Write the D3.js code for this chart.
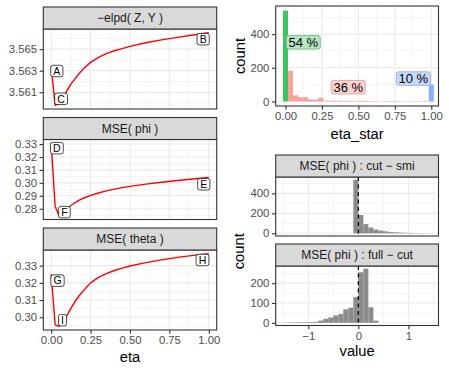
<!DOCTYPE html>
<html><head><meta charset="utf-8">
<script src="https://cdn.jsdelivr.net/npm/d3@7"></script>
<style>
body{margin:0;background:#fff}
svg{display:block}
text{font-family:"Liberation Sans",Arial,Helvetica,sans-serif}
</style>
</head><body>
<svg id="c" width="449" height="373"></svg>
<script>
// ---------------- DATA ----------------
const etaGrid   = [0,0.025,0.05,0.075,0.1,0.125,0.15,0.175,0.2,0.25,0.3,0.35,0.4,0.45,0.5,0.6,0.7,0.8,0.9,1.0];
const elpdNeg   = [3.56343,3.55978,3.55995,3.56050,3.56115,3.56175,3.56222,3.56269,3.56310,3.56377,3.56424,3.56458,3.56485,3.56505,3.56525,3.56559,3.56586,3.56609,3.56631,3.56653];
const msePhi    = [0.3307,0.2820,0.2745,0.2772,0.2800,0.2825,0.2846,0.2864,0.2879,0.2903,0.2922,0.2938,0.2952,0.2963,0.2973,0.2990,0.3005,0.3018,0.3030,0.3041];
const mseTheta  = [0.3250,0.2956,0.2947,0.2968,0.3010,0.3052,0.3090,0.3122,0.3150,0.3200,0.3232,0.3254,0.3272,0.3286,0.3298,0.3318,0.3334,0.3348,0.3360,0.3370];

const leftStrips = ["\u2212elpd( Z, Y )","MSE( phi )","MSE( theta )"];
const leftYTicks = [[3.561,3.563,3.565],[0.28,0.29,0.30,0.31,0.32,0.33],[0.30,0.31,0.32,0.33]];
const etaTicks   = [0,0.25,0.5,0.75,1];

const letters1 = ["A","B","C"], letEta1 = [0.036,0.964,0.063], letVal1 = [3.56297,3.56592,3.56039];
const letters2 = ["D","E","F"], letEta2 = [0.036,0.968,0.084], letVal2 = [0.3268,0.2989,0.2774];
const letters3 = ["G","H","I"], letEta3 = [0.040,0.960,0.072], letVal3 = [0.3213,0.3333,0.2983];

// eta_star histogram (30 bins, centres k/29)
const etaStarGroups = ["eta = 0","0 < eta < 1","eta = 1"];
const countEta0   = [540,0,0,0,0,0,0,0,0,0,0,0,0,0,0,0,0,0,0,0,0,0,0,0,0,0,0,0,0,0];
const countEtaMid = [0,182,36,25,25,12,10,22,5,4,5,4,3,4,3,4,3,3,2,1,2,1,2,1,0,1,1,1,2,0];
const countEta1   = [0,0,0,0,0,0,0,0,0,0,0,0,0,0,0,0,0,0,0,0,0,0,0,0,0,0,0,0,0,100];
const pctLabels = ["54 %","36 %","10 %"], pctEta = [0.122,0.431,0.877], pctCount = [351,85,136];
const etaStarTicks = [0,0.25,0.5,0.75,1];

// value histograms (bin left edges -1.5 .. 1.4, width 0.1)
const diffStrips = ["MSE( phi ) : cut \u2212 smi","MSE( phi ) : full \u2212 cut"];
const countCutSmi  = [0,0,0,0,0,0,0,0,0,0,0,0,0,0,537,183,92,58,38,28,20,12,10,7,5,4,3,2,1,1];
const countFullCut = [1,2,2,3,3,4,5,11,20,27,37,44,68,76,130,255,273,78,11,0,0,0,0,0,0,0,0,0,0,0];
const valueTicks = [-1,0,1];
const diffYTicks = [[0,200,400],[0,100,200]];
const etaStarYTicks = [0,200,400];

// ---------------- HELPERS ----------------
const svg = d3.select("#c");
const GRID = "#EBEBEB", BORDER = "#333333", STRIP = "#D9D9D9";
const TICKCOL = "#4D4D4D", TICKFS = 11.3, STRIPFS = 12, TITLEFS = 14.7;

function expand(ext){ const r = ext[1]-ext[0]; return [ext[0]-0.05*r, ext[1]+0.05*r]; }
function minorOf(t){ const m=[]; const s=t[1]-t[0]; m.push(t[0]-s/2); t.forEach(v=>m.push(v+s/2)); return m; }

function frame(g, x, y, xMaj, xMin, yMaj, yMin){
  const [l,r] = x.range(), [b,t] = y.range();
  g.append("rect").attr("x",l).attr("y",t).attr("width",r-l).attr("height",b-t).attr("fill","#fff");
  const inX = v => x(v)>=l && x(v)<=r, inY = v => y(v)<=b && y(v)>=t;
  g.selectAll(null).data(xMin.filter(inX)).enter().append("line")
    .attr("x1",d=>x(d)).attr("x2",d=>x(d)).attr("y1",t).attr("y2",b).attr("stroke",GRID).attr("stroke-width",0.55);
  g.selectAll(null).data(yMin.filter(inY)).enter().append("line")
    .attr("y1",d=>y(d)).attr("y2",d=>y(d)).attr("x1",l).attr("x2",r).attr("stroke",GRID).attr("stroke-width",0.55);
  g.selectAll(null).data(xMaj.filter(inX)).enter().append("line")
    .attr("x1",d=>x(d)).attr("x2",d=>x(d)).attr("y1",t).attr("y2",b).attr("stroke",GRID).attr("stroke-width",1.1);
  g.selectAll(null).data(yMaj.filter(inY)).enter().append("line")
    .attr("y1",d=>y(d)).attr("y2",d=>y(d)).attr("x1",l).attr("x2",r).attr("stroke",GRID).attr("stroke-width",1.1);
}
function border(g, x, y){
  const [l,r] = x.range(), [b,t] = y.range();
  g.append("rect").attr("x",l).attr("y",t).attr("width",r-l).attr("height",b-t)
    .attr("fill","none").attr("stroke",BORDER).attr("stroke-width",1.1);
}
function strip(g, l, r, top, bottom, txt){
  g.append("rect").attr("x",l).attr("y",top).attr("width",r-l).attr("height",bottom-top)
    .attr("fill",STRIP).attr("stroke",BORDER).attr("stroke-width",1.1);
  g.append("text").attr("x",(l+r)/2).attr("y",(top+bottom)/2).attr("dy","0.36em")
    .attr("text-anchor","middle").attr("fill","#1A1A1A").style("font-size",STRIPFS+"px").text(txt);
}
function styleAxis(a){
  a.select(".domain").remove();
  a.selectAll(".tick line").attr("stroke",BORDER).attr("stroke-width",1.1);
  a.selectAll(".tick text").attr("fill",TICKCOL).style("font-size",TICKFS+"px")
    .style("font-family",'"Liberation Sans",Arial,Helvetica,sans-serif');
}
function yAxis(g, y, ticks, fmt){
  const a = g.append("g").attr("transform",`translate(${y.xLeft},0)`)
    .call(d3.axisLeft(y).tickValues(ticks).tickSize(3.7).tickPadding(2.6).tickFormat(fmt));
  styleAxis(a);
}
function xAxis(g, x, yPos, ticks, fmt){
  const a = g.append("g").attr("transform",`translate(0,${yPos})`)
    .call(d3.axisBottom(x).tickValues(ticks).tickSize(3.7).tickPadding(2.6).tickFormat(fmt));
  styleAxis(a);
}
function box(g, cx, cy, txt, fs, padX, h, fill, stroke, sw){
  const t = g.append("text").attr("x",cx).attr("y",cy).attr("dy","0.36em").attr("text-anchor","middle")
    .attr("fill","#000").style("font-size",fs+"px").text(txt);
  const w = t.node().getComputedTextLength() + 2*padX;
  g.insert("rect", () => t.node()).attr("x",cx-w/2).attr("y",cy-h/2).attr("width",w).attr("height",h)
    .attr("rx",2.2).attr("fill",fill).attr("stroke",stroke).attr("stroke-width",sw);
}

// ---------------- LEFT COLUMN ----------------
const LL = 43.3, LR = 216.7;
const leftLayout = [{s:7,t:29,b:109},{s:117.5,t:139.5,b:219.5},{s:228,t:250,b:330}];
const leftSeries = [elpdNeg, msePhi, mseTheta];
const leftLetters = [[letters1,letEta1,letVal1],[letters2,letEta2,letVal2],[letters3,letEta3,letVal3]];
const leftFmt = [d3.format(".3f"), d3.format(".2f"), d3.format(".2f")];
const xEta = d3.scaleLinear().domain(expand([0,1])).range([LL,LR]);
const etaMinor = minorOf(etaTicks);

leftSeries.forEach((vals,i)=>{
  const L = leftLayout[i];
  const g = svg.append("g");
  const y = d3.scaleLinear().domain(expand(d3.extent(vals))).range([L.b, L.t]);
  y.xLeft = LL;
  frame(g, xEta, y, etaTicks, etaMinor, leftYTicks[i], minorOf(leftYTicks[i]));
  g.append("path").datum(etaGrid.map((e,k)=>[e,vals[k]]))
    .attr("d", d3.line().x(d=>xEta(d[0])).y(d=>y(d[1])))
    .attr("fill","none").attr("stroke","#FF0000").attr("stroke-width",1.4).attr("stroke-linejoin","round");
  const [lt, le, lv] = leftLetters[i];
  lt.forEach((s,k)=> box(g, xEta(le[k]), y(lv[k]), s, 10.5, 2.6, 11.5, "#fff", "#000", 0.7));
  border(g, xEta, y);
  strip(g, LL, LR, L.s, L.t, leftStrips[i]);
  yAxis(g, y, leftYTicks[i], leftFmt[i]);
  if(i===2) xAxis(g, xEta, L.b, etaTicks, d3.format(".2f"));
});
svg.append("text").attr("x",(LL+LR)/2).attr("y",361.5).attr("text-anchor","middle")
  .style("font-size",TITLEFS+"px").attr("fill","#000").text("eta");

// ---------------- RIGHT TOP: eta_star histogram ----------------
const RL = 275.7, RR = 438.5;
{
  const g = svg.append("g");
  const x = d3.scaleLinear().domain([-0.067,1.0494]).range([RL,RR]);
  const maxC = d3.max([...countEta0,...countEtaMid,...countEta1]);
  const y = d3.scaleLinear().domain(expand([0,maxC])).range([106,6]);
  y.xLeft = RL;
  frame(g, x, y, etaStarTicks, minorOf(etaStarTicks), etaStarYTicks, minorOf(etaStarYTicks));
  const bw = 1/29;
  const groups = [
    {c: countEtaMid, fill:"#F9A29B"},
    {c: countEta0,   fill:"#3CC45E"},
    {c: countEta1,   fill:"#84B0FC"}
  ];
  groups.forEach(gr=>{
    g.selectAll(null).data(gr.c.map((v,k)=>({k,v})).filter(d=>d.v>0)).enter().append("rect")
      .attr("x",d=>x(d.k*bw - bw/2)).attr("width",d=>x(d.k*bw+bw/2)-x(d.k*bw-bw/2))
      .attr("y",d=>y(d.v)).attr("height",d=>y(0)-y(d.v)).attr("fill",gr.fill);
  });
  const lf = ["#B5E8C2","#FBD1CD","#C7DAFC"], ls = ["#6FA880","#CC9E9A","#8FA6CF"];
  pctLabels.forEach((s,k)=> box(g, x(pctEta[k]), y(pctCount[k]), s, 13, 2.2, 13.5, lf[k], ls[k], 0.8));
  border(g, x, y);
  yAxis(g, y, etaStarYTicks, d3.format("d"));
  xAxis(g, x, 106, etaStarTicks, d3.format(".2f"));
  svg.append("text").attr("x",(RL+RR)/2).attr("y",139).attr("text-anchor","middle")
    .style("font-size",TITLEFS+"px").text("eta_star");
  svg.append("text").attr("transform",`translate(239.5,${(6+106)/2}) rotate(-90)`).attr("text-anchor","middle")
    .attr("dy","0.35em").style("font-size",TITLEFS+"px").text("count");
}

// ---------------- RIGHT BOTTOM: value histograms ----------------
{
  const x = d3.scaleLinear().domain([-1.65,1.6]).range([RL,RR]);
  const edges = d3.range(30).map(k => -1.5 + k*0.1);
  const layout = [{s:155,t:177,b:236},{s:244,t:266,b:325.5}];
  const series = [countCutSmi, countFullCut];
  series.forEach((cnt,i)=>{
    const L = layout[i];
    const g = svg.append("g");
    const y = d3.scaleLinear().domain(expand([0,d3.max(cnt)])).range([L.b,L.t]);
    y.xLeft = RL;
    frame(g, x, y, valueTicks, minorOf(valueTicks), diffYTicks[i], minorOf(diffYTicks[i]));
    g.selectAll(null).data(edges.map((e,k)=>({e,v:cnt[k]})).filter(d=>d.v>0)).enter().append("rect")
      .attr("x",d=>x(d.e)).attr("width",d=>x(d.e+0.1)-x(d.e))
      .attr("y",d=>y(d.v)).attr("height",d=>y(0)-y(d.v)).attr("fill","#8C8C8C");
    g.append("line").attr("x1",x(0)).attr("x2",x(0)).attr("y1",L.t).attr("y2",L.b)
      .attr("stroke","#000").attr("stroke-width",1.2).attr("stroke-dasharray","4,3.5");
    border(g, x, y);
    strip(g, RL, RR, L.s, L.t, diffStrips[i]);
    yAxis(g, y, diffYTicks[i], d3.format("d"));
    if(i===1) xAxis(g, x, L.b, valueTicks, d3.format("d"));
  });
  svg.append("text").attr("x",(RL+RR)/2).attr("y",356).attr("text-anchor","middle")
    .style("font-size",TITLEFS+"px").text("value");
  svg.append("text").attr("transform",`translate(239,${(177+325.5)/2}) rotate(-90)`).attr("text-anchor","middle")
    .attr("dy","0.35em").style("font-size",TITLEFS+"px").text("count");
}
</script>
</body></html>
